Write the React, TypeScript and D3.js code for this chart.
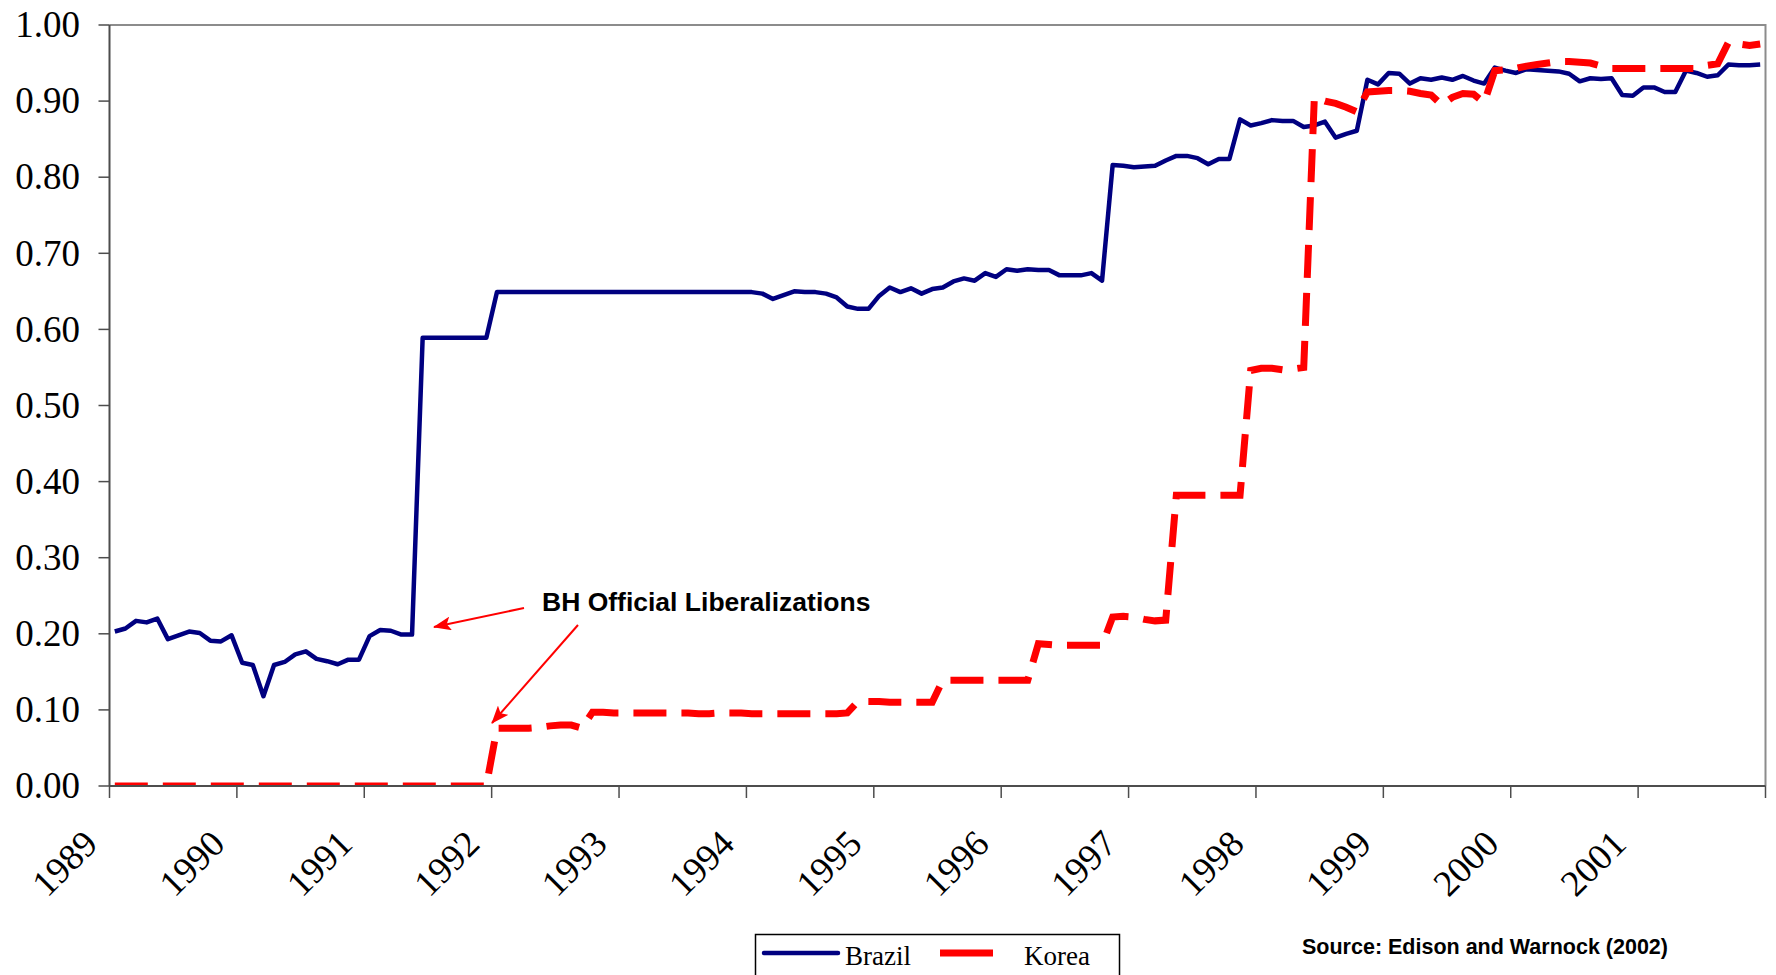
import { useEffect, useRef } from 'react'
import * as d3 from 'd3'

const years = ['1989', '1990', '1991', '1992', '1993', '1994', '1995', '1996', '1997', '1998', '1999', '2000', '2001']
const monthNames = ['Jan', 'Feb', 'Mar', 'Apr', 'May', 'Jun', 'Jul', 'Aug', 'Sep', 'Oct', 'Nov', 'Dec']
const months = years.flatMap(y => monthNames.map(m => `${m} ${y}`))

const yTicks = [0, 0.1, 0.2, 0.3, 0.4, 0.5, 0.6, 0.7, 0.8, 0.9, 1.0]

const brazil = [
  0.203, 0.207, 0.217, 0.215, 0.220, 0.193, 0.198, 0.203, 0.201, 0.191, 0.190, 0.198,
  0.162, 0.159, 0.118, 0.159, 0.163, 0.173, 0.177, 0.167, 0.164, 0.160, 0.166, 0.166,
  0.197, 0.205, 0.204, 0.199, 0.199, 0.589, 0.589, 0.589, 0.589, 0.589, 0.589, 0.589,
  0.649, 0.649, 0.649, 0.649, 0.649, 0.649, 0.649, 0.649, 0.649, 0.649, 0.649, 0.649,
  0.649, 0.649, 0.649, 0.649, 0.649, 0.649, 0.649, 0.649, 0.649, 0.649, 0.649, 0.649,
  0.649, 0.647, 0.640, 0.645, 0.650, 0.649, 0.649, 0.647, 0.642, 0.630, 0.627, 0.627,
  0.644, 0.655, 0.649, 0.654, 0.647, 0.653, 0.655, 0.663, 0.667, 0.664, 0.674, 0.669,
  0.679, 0.677, 0.679, 0.678, 0.678, 0.671, 0.671, 0.671, 0.674, 0.664, 0.816, 0.815,
  0.813, 0.814, 0.815, 0.822, 0.828, 0.828, 0.825, 0.817, 0.824, 0.824, 0.876, 0.868,
  0.871, 0.875, 0.874, 0.874, 0.866, 0.868, 0.873, 0.852, 0.857, 0.861, 0.928, 0.922,
  0.937, 0.936, 0.923, 0.930, 0.928, 0.931, 0.928, 0.933, 0.927, 0.923, 0.944, 0.940,
  0.937, 0.942, 0.941, 0.940, 0.939, 0.936, 0.926, 0.930, 0.929, 0.930, 0.908, 0.907,
  0.918, 0.918, 0.912, 0.912, 0.940, 0.937, 0.932, 0.934, 0.948, 0.947, 0.947, 0.948,
]

const korea = [
  0, 0, 0, 0, 0, 0, 0, 0, 0, 0, 0, 0,
  0, 0, 0, 0, 0, 0, 0, 0, 0, 0, 0, 0,
  0, 0, 0, 0, 0, 0, 0, 0, 0, 0, 0, 0,
  0.076, 0.076, 0.076, 0.076, 0.077, 0.079, 0.080, 0.080, 0.076, 0.097, 0.097, 0.096,
  0.096, 0.096, 0.096, 0.096, 0.096, 0.096, 0.096, 0.095, 0.095, 0.096, 0.096, 0.096,
  0.095, 0.095, 0.095, 0.095, 0.095, 0.095, 0.095, 0.095, 0.095, 0.096, 0.111, 0.111,
  0.111, 0.110, 0.110, 0.110, 0.110, 0.110, 0.139, 0.139, 0.139, 0.139, 0.139, 0.139,
  0.139, 0.139, 0.139, 0.187, 0.186, 0.185, 0.185, 0.185, 0.185, 0.185, 0.222, 0.223,
  0.222, 0.219, 0.217, 0.218, 0.382, 0.382, 0.382, 0.382, 0.382, 0.382, 0.382, 0.546,
  0.549, 0.549, 0.547, 0.548, 0.550, 0.905, 0.900, 0.897, 0.892, 0.886, 0.912, 0.913,
  0.914, 0.914, 0.913, 0.910, 0.908, 0.895, 0.905, 0.910, 0.909, 0.898, 0.940, 0.941,
  0.943, 0.946, 0.948, 0.950, 0.952, 0.952, 0.951, 0.950, 0.946, 0.943, 0.943, 0.943,
  0.943, 0.943, 0.943, 0.943, 0.943, 0.943, 0.947, 0.949, 0.977, 0.975, 0.973, 0.975,
]

const annotation = 'BH Official Liberalizations'
const sourceNote = 'Source: Edison and Warnock (2002)'

const W = 1776
const H = 975
const serif = '"Liberation Serif", "Times New Roman", serif'
const sans = '"Liberation Sans", Arial, sans-serif'
const navy = '#000080'
const red = '#ff0000'

export default function App() {
  const svgRef = useRef<SVGSVGElement>(null)

  useEffect(() => {
    document.body.style.margin = '0'
    document.body.style.overflow = 'hidden'
    if (!svgRef.current) return

    const plot = { left: 109.5, right: 1765.5, top: 25, bottom: 786 }

    const svg = d3.select(svgRef.current)
    svg.selectAll('*').remove()

    const x = d3.scalePoint<string>()
      .domain(months)
      .range([plot.left, plot.right])
      .padding(0.5)
    const step = x.step()

    const y = d3.scaleLinear()
      .domain([0, 1])
      .range([plot.bottom, plot.top])

    const defs = svg.append('defs')
    defs.append('clipPath')
      .attr('id', 'plot-clip')
      .append('rect')
      .attr('x', plot.left)
      .attr('y', plot.top)
      .attr('width', plot.right - plot.left)
      .attr('height', plot.bottom - plot.top)

    defs.append('marker')
      .attr('id', 'arrow')
      .attr('markerUnits', 'userSpaceOnUse')
      .attr('viewBox', '0 0 18 14')
      .attr('refX', 17)
      .attr('refY', 7)
      .attr('markerWidth', 18)
      .attr('markerHeight', 14)
      .attr('orient', 'auto')
      .append('path')
      .attr('d', 'M0,0 L18,7 L0,14 L4,7 Z')
      .attr('fill', red)

    svg.append('rect')
      .attr('width', W)
      .attr('height', H)
      .attr('fill', '#ffffff')

    // top and right border of the plot area
    svg.append('path')
      .attr('d', `M${plot.left},${plot.top} H${plot.right} V${plot.bottom}`)
      .attr('fill', 'none')
      .attr('stroke', '#8c8c8c')
      .attr('stroke-width', 2)

    const line = d3.line<number>()
      .x((_, i) => x(months[i]) as number)
      .y(d => y(d))

    const series = svg.append('g').attr('clip-path', 'url(#plot-clip)')

    series.append('path')
      .datum(brazil)
      .attr('d', line)
      .attr('fill', 'none')
      .attr('stroke', navy)
      .attr('stroke-width', 4.5)
      .attr('stroke-linejoin', 'round')

    series.append('path')
      .datum(korea)
      .attr('d', line)
      .attr('fill', 'none')
      .attr('stroke', red)
      .attr('stroke-width', 7)
      .attr('stroke-dasharray', '33,15')

    // axes
    const yearTicks = d3.range(years.length + 1).map(k =>
      k < years.length ? (x(months[k * 12]) as number) - step / 2 : plot.right
    )

    const axisColor = '#4d4d4d'

    const xAxis = svg.append('g')
    xAxis.append('line')
      .attr('x1', plot.left)
      .attr('x2', plot.right)
      .attr('y1', plot.bottom)
      .attr('y2', plot.bottom)
      .attr('stroke', axisColor)
      .attr('stroke-width', 2)
    xAxis.selectAll('.xtick')
      .data(yearTicks)
      .join('line')
      .attr('class', 'xtick')
      .attr('x1', d => d)
      .attr('x2', d => d)
      .attr('y1', plot.bottom)
      .attr('y2', plot.bottom + 12)
      .attr('stroke', axisColor)
      .attr('stroke-width', 1.5)
    xAxis.selectAll('.xlabel')
      .data(years)
      .join('text')
      .attr('class', 'xlabel')
      .attr('transform', (_, i) => `translate(${yearTicks[i] - 10},${plot.bottom + 60}) rotate(-45)`)
      .attr('text-anchor', 'end')
      .attr('font-family', serif)
      .attr('font-size', 37)
      .attr('fill', '#000')
      .text(d => d)

    const yAxis = svg.append('g')
    yAxis.append('line')
      .attr('x1', plot.left)
      .attr('x2', plot.left)
      .attr('y1', plot.top)
      .attr('y2', plot.bottom)
      .attr('stroke', axisColor)
      .attr('stroke-width', 2)
    yAxis.selectAll('.ytick')
      .data(yTicks)
      .join('line')
      .attr('class', 'ytick')
      .attr('x1', plot.left - 11)
      .attr('x2', plot.left)
      .attr('y1', d => y(d))
      .attr('y2', d => y(d))
      .attr('stroke', axisColor)
      .attr('stroke-width', 1.5)
    yAxis.selectAll('.ylabel')
      .data(yTicks)
      .join('text')
      .attr('class', 'ylabel')
      .attr('x', 80)
      .attr('y', d => y(d))
      .attr('dy', '0.33em')
      .attr('text-anchor', 'end')
      .attr('font-family', serif)
      .attr('font-size', 37)
      .attr('fill', '#000')
      .text(d => d.toFixed(2))

    // annotation with arrows
    svg.append('text')
      .attr('x', 542)
      .attr('y', 611)
      .attr('font-family', sans)
      .attr('font-weight', 'bold')
      .attr('font-size', 26.5)
      .attr('fill', '#000')
      .text(annotation)

    const arrows = [
      { from: [524, 608], to: [434, 627] },
      { from: [578, 625], to: [492, 723] },
    ]
    svg.selectAll('.arrow')
      .data(arrows)
      .join('line')
      .attr('class', 'arrow')
      .attr('x1', d => d.from[0])
      .attr('y1', d => d.from[1])
      .attr('x2', d => d.to[0])
      .attr('y2', d => d.to[1])
      .attr('stroke', red)
      .attr('stroke-width', 2)
      .attr('marker-end', 'url(#arrow)')

    // legend
    const legend = svg.append('g')
    legend.append('rect')
      .attr('x', 755.5)
      .attr('y', 934.5)
      .attr('width', 364)
      .attr('height', 60)
      .attr('fill', '#fff')
      .attr('stroke', '#000')
      .attr('stroke-width', 1.5)
    legend.append('line')
      .attr('x1', 764)
      .attr('x2', 838)
      .attr('y1', 953)
      .attr('y2', 953)
      .attr('stroke', navy)
      .attr('stroke-width', 4.5)
      .attr('stroke-linecap', 'round')
    legend.append('text')
      .attr('x', 845)
      .attr('y', 965)
      .attr('font-family', serif)
      .attr('font-size', 27)
      .text('Brazil')
    legend.append('line')
      .attr('x1', 940)
      .attr('x2', 993)
      .attr('y1', 953)
      .attr('y2', 953)
      .attr('stroke', red)
      .attr('stroke-width', 7)
    legend.append('text')
      .attr('x', 1024)
      .attr('y', 965)
      .attr('font-family', serif)
      .attr('font-size', 27)
      .text('Korea')

    svg.append('text')
      .attr('x', 1302)
      .attr('y', 954)
      .attr('font-family', sans)
      .attr('font-weight', 'bold')
      .attr('font-size', 21.5)
      .attr('fill', '#000')
      .text(sourceNote)
  }, [])

  return (
    <svg
      ref={svgRef}
      width={W}
      height={H}
      style={{ position: 'absolute', left: 0, top: 0, display: 'block' }}
    />
  )
}
